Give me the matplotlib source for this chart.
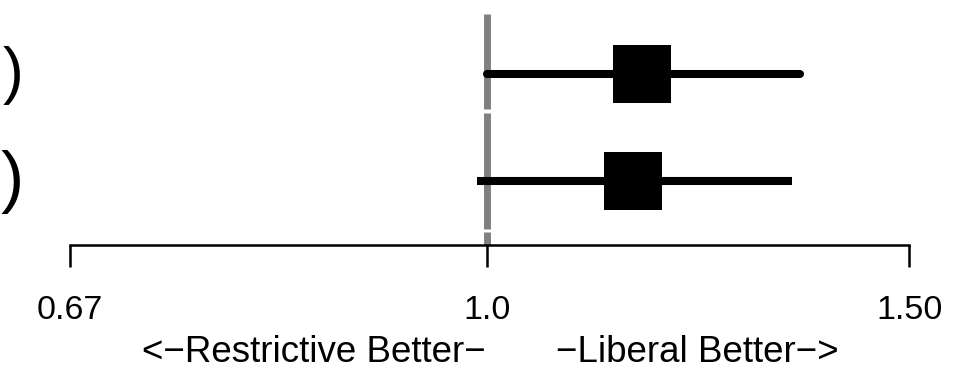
import matplotlib.pyplot as plt
import numpy as np

plt.rcParams['font.family'] = ['Liberation Sans', 'DejaVu Sans']

# odds ratios (log scale)
rows = [2, 1]
estimate = [1.16, 1.15]
lower = [1.00, 0.99]
upper = [1.35, 1.34]
caps = ['round', 'butt']
paren_size = [45, 50]

tick_vals = [0.67, 1.0, 1.50]
tick_labels = ['0.67', '1.0', '1.50']
left_label = '<\u2212Restrictive Better\u2212'
right_label = '\u2212Liberal Better\u2212>'

fig = plt.figure(figsize=(9.68, 3.71), dpi=100)
ax = fig.add_axes([0, (371 - 245) / 371, 1, 245 / 371])
ax.set_xscale('log')
ax.set_xlim(0.6264, 1.587)
ax.set_ylim(0.402, 2.692)

# reference line at 1, drawn in row pieces with small gaps
segs = [(1.672, 2.56), (0.547, 1.640), (0.402, 0.520)]
for y0, y1 in segs:
    ax.vlines(1.0, y0, y1, color='#808080', lw=5, zorder=1)

for y, est, lo, hi, cs in zip(rows, estimate, lower, upper, caps):
    ax.plot([lo, hi], [y, y], color='black', lw=5.8,
            solid_capstyle=cs, zorder=2)
    ax.plot(est, y, marker='s', color='black', markersize=42,
            markeredgewidth=0, zorder=3)

# right edge of clipped row labels
for y, fs in zip(rows, paren_size):
    ax.text(0.024, y - 0.01, ')', transform=ax.get_yaxis_transform(),
            ha='right', va='center', fontsize=fs)

for s in ['top', 'left', 'right']:
    ax.spines[s].set_visible(False)
ax.spines['bottom'].set_bounds(tick_vals[0], tick_vals[-1])
ax.spines['bottom'].set_linewidth(1.8)
ax.set_yticks([])
ax.set_xticks(tick_vals)
ax.set_xticklabels(tick_labels, fontsize=24.5)
ax.xaxis.set_minor_locator(plt.NullLocator())
ax.tick_params(axis='x', length=15.5, width=1.8, pad=20.5)

ax.annotate(left_label, xy=(1.0, 0), xycoords=('data', 'figure fraction'),
            xytext=(-1, 1), textcoords='offset pixels',
            ha='right', va='bottom', fontsize=26.5)
ax.annotate(right_label, xy=(1.0, 0), xycoords=('data', 'figure fraction'),
            xytext=(69, 1), textcoords='offset pixels',
            ha='left', va='bottom', fontsize=26.5)

fig.savefig('out.png', dpi=100)
